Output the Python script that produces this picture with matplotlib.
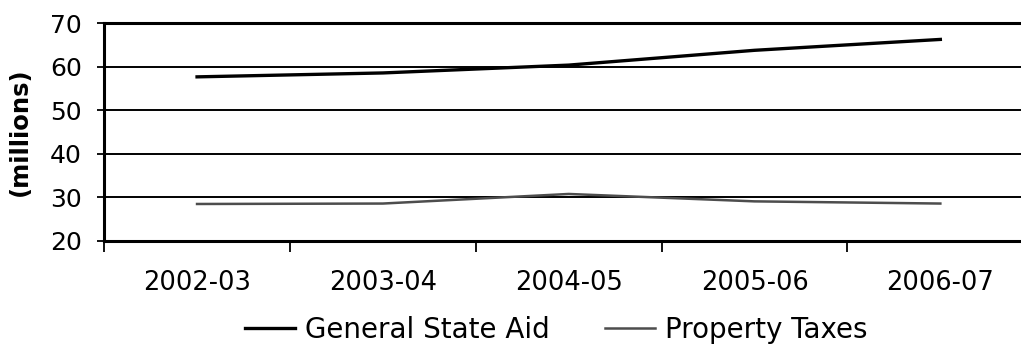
import numpy as np
import matplotlib
matplotlib.use("Agg")
import matplotlib.pyplot as plt

plt.rcParams['font.family'] = ['DejaVu Sans']

years = ["2002-03", "2003-04", "2004-05", "2005-06", "2006-07"]
state_aid = [57.7, 58.6, 60.4, 63.8, 66.3]
property_taxes = [28.5, 28.6, 30.8, 29.1, 28.6]

fig = plt.figure(figsize=(10.21, 3.49), dpi=100)
ax = fig.add_axes([0.102, 0.3095, 0.91, 0.6237])

x = np.arange(len(years))
ax.plot(x, state_aid, color="black", lw=2.4, label="General State Aid", zorder=3)
ax.plot(x, property_taxes, color="#4d4d4d", lw=1.8, label="Property Taxes", zorder=3)

ax.set_xlim(-0.5, len(years) - 0.5)
ax.set_ylim(20, 70)
ax.set_yticks(np.arange(20, 71, 10))
ax.yaxis.grid(True, color="black", lw=1.4)
ax.set_axisbelow(True)

# category labels sit between the boundary ticks
ax.set_xticks(x)
ax.set_xticklabels(years, fontsize=18.5)
ax.set_xticks(np.arange(-0.5, len(years)), minor=True)
ax.tick_params(axis="x", which="major", length=0, pad=21)
ax.tick_params(axis="x", which="minor", length=8, width=1.3, direction="out")
ax.tick_params(axis="y", length=5, width=1.3, direction="out", labelsize=18, pad=11)

for side in ["left", "bottom", "top"]:
    ax.spines[side].set_linewidth(2.2)
ax.spines["right"].set_visible(False)

ax.set_ylabel("(millions)", fontsize=17.5, fontweight="bold", labelpad=13)

fig.legend(loc="center", bbox_to_anchor=(556 / 1021, 1 - 330 / 349), ncol=2,
           frameon=False, fontsize=20, handlelength=1.8, handletextpad=0.35,
           columnspacing=2.0, borderpad=0, borderaxespad=0)

fig.savefig("out.png", dpi=100)
